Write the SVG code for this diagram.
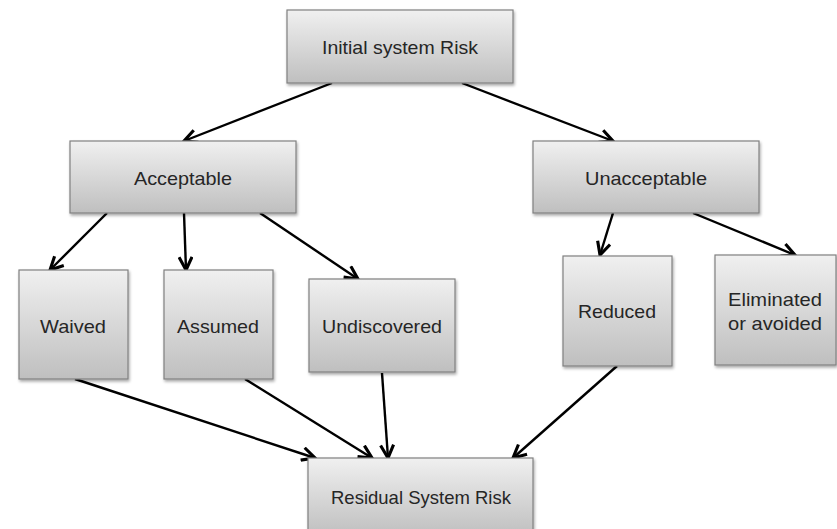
<svg xmlns="http://www.w3.org/2000/svg" width="837" height="529" viewBox="0 0 837 529">
  <defs>
    <linearGradient id="boxFill" x1="0" y1="0" x2="0" y2="1">
      <stop offset="0" stop-color="#f0f0f0"/>
      <stop offset="1" stop-color="#bfbfbf"/>
    </linearGradient>
    <filter id="shadow" x="-10%" y="-10%" width="130%" height="130%">
      <feGaussianBlur in="SourceAlpha" stdDeviation="1.5"/>
      <feOffset dx="1" dy="2" result="b"/>
      <feComponentTransfer><feFuncA type="linear" slope="0.35"/></feComponentTransfer>
      <feMerge><feMergeNode/><feMergeNode in="SourceGraphic"/></feMerge>
    </filter>
    <marker id="arrow" viewBox="0 0 12 12" refX="11" refY="6" markerWidth="6.5" markerHeight="6.5" markerUnits="strokeWidth" orient="auto">
      <path d="M1,1 L11,6 L1,11" fill="none" stroke="#000" stroke-width="2.4" stroke-linejoin="miter"/>
    </marker>
  </defs>
  <style>
    .box { fill: url(#boxFill); stroke: #808080; stroke-width: 1.2; filter: url(#shadow); }
    .lbl { font-family: "Liberation Sans", Arial, sans-serif; font-size: 18.5px; fill: #262626; text-anchor: middle; dominant-baseline: central; }
    .edge { stroke: #000; stroke-width: 2.4; fill: none; marker-end: url(#arrow); }
  </style>
  <rect width="837" height="529" fill="#ffffff"/>

  <g id="connectors">
    <line class="edge" x1="332" y1="83" x2="184" y2="141"/>
    <line class="edge" x1="462" y1="83" x2="613" y2="141"/>
    <line class="edge" x1="107" y1="213" x2="50" y2="270"/>
    <line class="edge" x1="184" y1="213" x2="186" y2="270"/>
    <line class="edge" x1="260" y1="213" x2="358" y2="279"/>
    <line class="edge" x1="613" y1="213" x2="600" y2="255"/>
    <line class="edge" x1="693" y1="213" x2="795" y2="255"/>
    <line class="edge" x1="75" y1="379" x2="315" y2="458"/>
    <line class="edge" x1="245" y1="379" x2="372" y2="458"/>
    <line class="edge" x1="382" y1="373" x2="388" y2="458"/>
    <line class="edge" x1="617" y1="366" x2="513" y2="458"/>
  </g>

  <g id="initial">
    <rect class="box" x="287" y="10" width="226" height="73"/>
    <text class="lbl" x="400" y="47" textLength="156" lengthAdjust="spacingAndGlyphs">Initial system Risk</text>
  </g>
  <g id="acceptable">
    <rect class="box" x="70" y="141" width="226" height="72"/>
    <text class="lbl" x="183" y="178" textLength="98" lengthAdjust="spacingAndGlyphs">Acceptable</text>
  </g>
  <g id="unacceptable">
    <rect class="box" x="533" y="141" width="226" height="72"/>
    <text class="lbl" x="646" y="178" textLength="122" lengthAdjust="spacingAndGlyphs">Unacceptable</text>
  </g>
  <g id="waived">
    <rect class="box" x="19" y="270" width="109" height="109"/>
    <text class="lbl" x="73" y="326" textLength="66" lengthAdjust="spacingAndGlyphs">Waived</text>
  </g>
  <g id="assumed">
    <rect class="box" x="164" y="270" width="109" height="109"/>
    <text class="lbl" x="218" y="326" textLength="82" lengthAdjust="spacingAndGlyphs">Assumed</text>
  </g>
  <g id="undiscovered">
    <rect class="box" x="309" y="279" width="146" height="93"/>
    <text class="lbl" x="382" y="326" textLength="120" lengthAdjust="spacingAndGlyphs">Undiscovered</text>
  </g>
  <g id="reduced">
    <rect class="box" x="563" y="256" width="109" height="110"/>
    <text class="lbl" x="617" y="311" textLength="78" lengthAdjust="spacingAndGlyphs">Reduced</text>
  </g>
  <g id="eliminated">
    <rect class="box" x="715" y="255" width="121" height="110"/>
    <text class="lbl" x="775" y="299" textLength="94" lengthAdjust="spacingAndGlyphs">Eliminated</text>
    <text class="lbl" x="775" y="323" textLength="94" lengthAdjust="spacingAndGlyphs">or avoided</text>
  </g>
  <g id="residual">
    <rect class="box" x="308" y="458" width="225" height="78"/>
    <text class="lbl" x="421" y="497" textLength="180" lengthAdjust="spacingAndGlyphs">Residual System Risk</text>
  </g>
</svg>
